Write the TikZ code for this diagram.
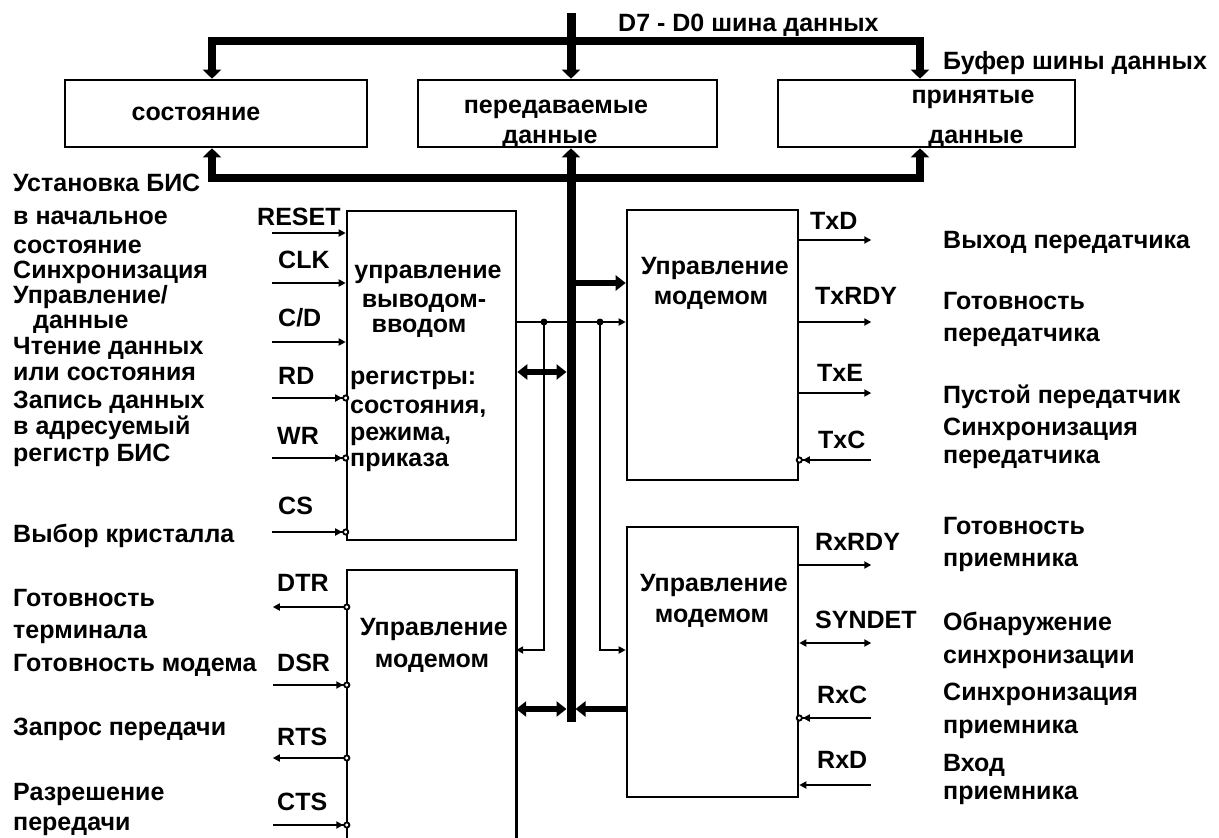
\documentclass[tikz,border=0pt]{standalone}
\usepackage{fontspec}
\setmainfont{Liberation Sans}
\usetikzlibrary{arrows.meta}
\tikzset{
  bhead/.tip={Triangle[length=9pt,width=18pt]},
  lhead/.tip={Triangle[length=10pt,width=15pt]},
  shead/.tip={Triangle[length=7pt,width=7pt]},
  blk/.style={rectangle,draw,line width=2.6pt,inner sep=0pt},
  bus/.style={line width=8pt},
  mainbus/.style={line width=9pt},
  link/.style={line width=6pt},
  sig/.style={line width=1.8pt},
  inv/.style={{Circle[length=7pt,fill=white]shead}-,shorten <=-3.5pt},
  invout/.style={{Circle[length=7pt,fill=white]}-{shead},shorten <=-3.5pt},
  txt/.style={anchor=base,inner sep=0pt},
  lbl/.style={anchor=base west,inner sep=0pt}
}
\begin{document}
\begin{tikzpicture}[x=1pt,y=-1pt,font=\fontsize{25}{28}\selectfont\bfseries]
  \useasboundingbox (0,0) rectangle (1219,838);
  \node[blk,minimum width=302pt,minimum height=67pt] (st) at (216,113.5) {};
  \node[blk,minimum width=299pt,minimum height=67pt] (tdat) at (567.5,113.5) {};
  \node[blk,minimum width=297pt,minimum height=67pt] (rdat) at (926.5,113.5) {};
  \node[blk,minimum width=169pt,minimum height=329pt] (io) at (431.5,375.5) {};
  \node[blk,minimum width=171pt,minimum height=270pt] (mt) at (712.5,345) {};
  \node[blk,minimum width=171pt,minimum height=270pt] (mr) at (712.5,662) {};
  \node[rectangle,inner sep=0pt,minimum width=169pt,minimum height=268pt] (ml) at (431.5,704) {};
  \draw[line width=2.6pt] (ml.south west) -- (ml.north west) -- (ml.north east) -- (ml.south east);

  \coordinate (tl) at (212,41);
  \coordinate (tr) at (920,41);
  \coordinate (bl) at (212,178);
  \coordinate (br) at (920,178);
  \coordinate (btop) at (571,13);
  \coordinate (bbot) at (571,722);
  \coordinate (j1) at (544,322);
  \coordinate (j2) at (600,322);

  \node[lbl] (busname) at (618,31) {D7 - D0 шина данных};
  \node[lbl] (bufname) at (943,69) {Буфер шины данных};
  \node[txt] (st1) at (196,120) {состояние};
  \node[txt] (tdat1) at (556,113) {передаваемые};
  \node[txt] (tdat2) at (550,143) {данные};
  \node[txt] (rdat1) at (973,103) {принятые};
  \node[txt] (rdat2) at (976,143) {данные};

  \draw[bus,{bhead}-{bhead}] (tl |- st.north) -- (tl) -- (tr) -- (tr |- rdat.north);
  \draw[mainbus,-{bhead}] (btop) -- (btop |- tdat.north);
  \draw[bus,{bhead}-{bhead}] (bl |- st.south) -- (bl) -- (br) -- (br |- rdat.south);

  \draw[sig,-{shead}] (io.east |- j1) -- (mt.west |- j1);
  \draw[sig,-{shead}] (j1) |- (ml.east |- 0,650);
  \draw[sig,-{shead}] (j2) |- (mr.west |- 0,650);
  \fill (j1) circle (3.5pt);
  \fill (j2) circle (3.5pt);
  \draw[mainbus,-{bhead}] (bbot) -- (bbot |- tdat.south);
  \draw[link,{lhead}-{lhead},shorten >=4.5pt] (io.east |- 0,372) -- (bbot |- 0,372);
  \draw[link,-{lhead},shorten <=4.5pt] (bbot |- 0,283) -- (mt.west |- 0,283);
  \draw[link,{lhead}-{lhead},shorten >=4.5pt] (ml.east |- 0,709) -- (bbot |- 0,709);
  \draw[link,-{lhead},shorten >=4.5pt] (mr.west |- 0,709) -- (bbot |- 0,709);

  \node[txt] (io1) at (428,278) {управление};
  \node[txt] (io2) at (424,307) {выводом-};
  \node[txt] (io3) at (419,332) {вводом};
  \node[lbl] (io4) at (350,384) {регистры:};
  \node[lbl] (io5) at (350,413) {состояния,};
  \node[lbl] (io6) at (350,440) {режима,};
  \node[lbl] (io7) at (350,466) {приказа};
  \node[txt] (mt1) at (715,274) {Управление};
  \node[txt] (mt2) at (711,304) {модемом};
  \node[txt] (mr1) at (714,591) {Управление};
  \node[txt] (mr2) at (712,622) {модемом};
  \node[txt] (ml1) at (434,635) {Управление};
  \node[txt] (ml2) at (432,667) {модемом};

  \draw[sig,{shead}-] (io.west |- 0,233) -- ++(-74,0);
  \draw[sig,{shead}-] (io.west |- 0,283) -- ++(-74,0);
  \draw[sig,{shead}-] (io.west |- 0,342) -- ++(-74,0);
  \draw[sig,inv] (io.west |- 0,398) -- ++(-74,0);
  \draw[sig,inv] (io.west |- 0,458) -- ++(-74,0);
  \draw[sig,inv] (io.west |- 0,532) -- ++(-74,0);
  \draw[sig,invout] (ml.west |- 0,607) -- ++(-74,0);
  \draw[sig,inv] (ml.west |- 0,685) -- ++(-74,0);
  \draw[sig,invout] (ml.west |- 0,758) -- ++(-74,0);
  \draw[sig,inv] (ml.west |- 0,825) -- ++(-74,0);
  \draw[sig,-{shead}] (mt.east |- 0,240) -- ++(72,0);
  \draw[sig,-{shead}] (mt.east |- 0,322) -- ++(72,0);
  \draw[sig,-{shead}] (mt.east |- 0,393) -- ++(72,0);
  \draw[sig,inv] (mt.east |- 0,460) -- ++(72,0);
  \draw[sig,-{shead}] (mr.east |- 0,565) -- ++(72,0);
  \draw[sig,{shead}-{shead}] (mr.east |- 0,643) -- ++(72,0);
  \draw[sig,inv] (mr.east |- 0,718) -- ++(72,0);
  \draw[sig,{shead}-] (mr.east |- 0,785) -- ++(72,0);

  \node[lbl] (reset) at (257,225) {RESET};
  \node[lbl] (clk) at (278,268) {CLK};
  \node[lbl] (cd) at (278,326) {C/D};
  \node[lbl] (rdl) at (278,384) {RD};
  \node[lbl] (wr) at (277,444) {WR};
  \node[lbl] (cs) at (278,514) {CS};
  \node[lbl] (dtr) at (277,591) {DTR};
  \node[lbl] (dsr) at (277,671) {DSR};
  \node[lbl] (rts) at (277,745) {RTS};
  \node[lbl] (cts) at (277,810) {CTS};
  \node[lbl] (txd) at (810,229) {TxD};
  \node[lbl] (txrdy) at (815,304) {TxRDY};
  \node[lbl] (txe) at (817,381) {TxE};
  \node[lbl] (txc) at (818,448) {TxC};
  \node[lbl] (rxrdy) at (815,550) {RxRDY};
  \node[lbl] (syndet) at (815,628) {SYNDET};
  \node[lbl] (rxc) at (817,703) {RxC};
  \node[lbl] (rxd) at (817,768) {RxD};

  \node[lbl] (dres1) at (13,191) {Установка БИС};
  \node[lbl] (dres2) at (13,224) {в начальное};
  \node[lbl] (dres3) at (13,253) {состояние};
  \node[lbl] (dclk) at (13,278) {Синхронизация};
  \node[lbl] (dcd1) at (13,303) {Управление/};
  \node[lbl] (dcd2) at (33,328) {данные};
  \node[lbl] (drd1) at (13,354) {Чтение данных};
  \node[lbl] (drd2) at (13,380) {или состояния};
  \node[lbl] (dwr1) at (13,408) {Запись данных};
  \node[lbl] (dwr2) at (13,434) {в адресуемый};
  \node[lbl] (dwr3) at (13,461) {регистр БИС};
  \node[lbl] (dcs) at (13,542) {Выбор кристалла};
  \node[lbl] (ddtr1) at (13,606) {Готовность};
  \node[lbl] (ddtr2) at (13,638) {терминала};
  \node[lbl] (ddsr) at (13,671) {Готовность модема};
  \node[lbl] (drts) at (13,735) {Запрос передачи};
  \node[lbl] (dcts1) at (13,800) {Разрешение};
  \node[lbl] (dcts2) at (13,830) {передачи};

  \node[lbl] (dtxd) at (943,248) {Выход передатчика};
  \node[lbl] (dtxr1) at (943,309) {Готовность};
  \node[lbl] (dtxr2) at (943,341) {передатчика};
  \node[lbl] (dtxe) at (943,403) {Пустой передатчик};
  \node[lbl] (dtxc1) at (943,435) {Синхронизация};
  \node[lbl] (dtxc2) at (943,463) {передатчика};
  \node[lbl] (drxr1) at (943,534) {Готовность};
  \node[lbl] (drxr2) at (943,566) {приемника};
  \node[lbl] (dsyn1) at (943,630) {Обнаружение};
  \node[lbl] (dsyn2) at (943,663) {синхронизации};
  \node[lbl] (drxc1) at (943,700) {Синхронизация};
  \node[lbl] (drxc2) at (943,733) {приемника};
  \node[lbl] (drxd1) at (943,771) {Вход};
  \node[lbl] (drxd2) at (943,799) {приемника};
\end{tikzpicture}
\end{document}
